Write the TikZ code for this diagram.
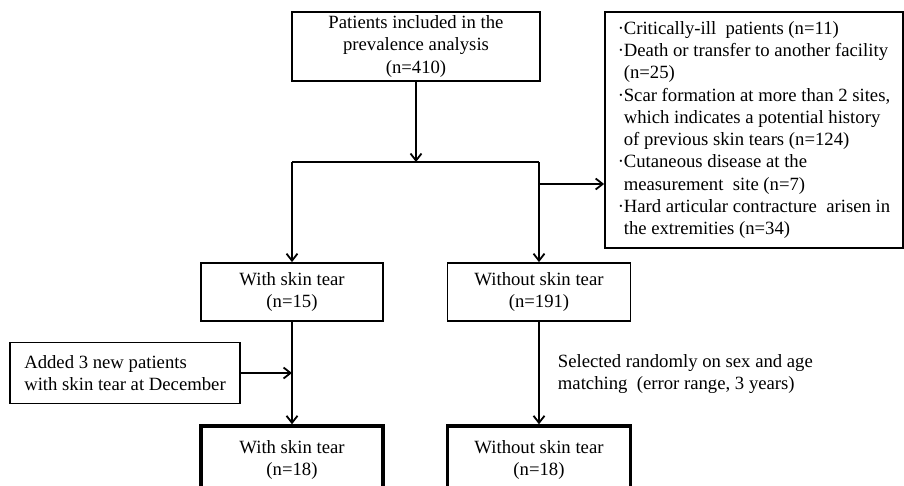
\documentclass[tikz,border=0pt]{standalone}
\usepackage{fontspec}
\setmainfont{Liberation Serif}
\usetikzlibrary{arrows.meta}

\newcommand{\bul}{\makebox[6pt][l]{·}}
\newcommand{\ind}{\hspace*{6pt}}

\begin{document}
\begin{tikzpicture}[auto, x=1pt, y=-1pt, line width=1.8pt, >={Straight Barb[length=7pt,width=11pt]}]
\tikzstyle{block} = [draw, rectangle, align=center, inner sep=0pt, font=\fontsize{18.7}{22.3}\selectfont]
\tikzstyle{final} = [block, line width=3.5pt, minimum width=182pt, minimum height=68pt]
\tikzstyle{split} = [coordinate]
\tikzstyle{note} = [align=left, inner sep=0pt, font=\fontsize{18.7}{22.3}\selectfont]

\useasboundingbox (0,0) rectangle (904,485);
\clip (0,0) rectangle (904,485);

    % We start by placing the blocks
    \node [block, minimum width=248pt, minimum height=69pt] (included) at (416,46.5)
        {Patients included in the\\prevalence analysis\\(n=410)};
    \node [block, align=left, minimum width=298pt, minimum height=236pt] (excluded) at (754,130)
        {\bul Critically-ill\ \ patients (n=11)\\
         \bul Death or transfer to another facility\\
         \ind (n=25)\\
         \bul Scar formation at more than 2 sites,\\
         \ind which indicates a potential history\\
         \ind of previous skin tears (n=124)\\
         \bul Cutaneous disease at the\\
         \ind measurement\ \ site (n=7)\\
         \bul Hard articular contracture\ \ arisen in\\
         \ind the extremities (n=34)};
    \node [block, minimum width=182pt, minimum height=58pt] (with_st) at (292,292) {With skin tear\\(n=15)};
    \node [block, minimum width=183pt, minimum height=58pt] (without_st) at (539,292) {Without skin tear\\(n=191)};
    \node [block, align=left, minimum width=230pt, minimum height=61pt] (added) at (125,373)
        {Added 3 new patients\\with skin tear at December};
    \node [note, anchor=west] (matching) at (557,374)
        {Selected randomly on sex and age\\matching\ \ (error range, 3 years)};
    \node [final] (with_final) at (292,460) {With skin tear\\(n=18)};
    \node [final, minimum width=183pt] (without_final) at (539,460) {Without skin tear\\(n=18)};

    \node [split] (split_c) at (416,162) {};
    \node [split] (split_l) at (292,162) {};
    \node [split] (split_r) at (539,162) {};
    \node [split] (split_x) at (539,184) {};

    % Once the nodes are placed, connecting them is easy.
    \draw [->] (included) -- (split_c);
    \draw [-] (split_l) -- (split_r);
    \draw [->] (split_l) -- (with_st);
    \draw [->] (split_r) -- (without_st);
    \draw [->] (split_x) -- (split_x -| excluded.west);
    \draw [->] (with_st) -- (with_final);
    \draw [->] (added.east) -- (added.east -| with_st);
    \draw [->] (without_st) -- (without_final);

\end{tikzpicture}
\end{document}
